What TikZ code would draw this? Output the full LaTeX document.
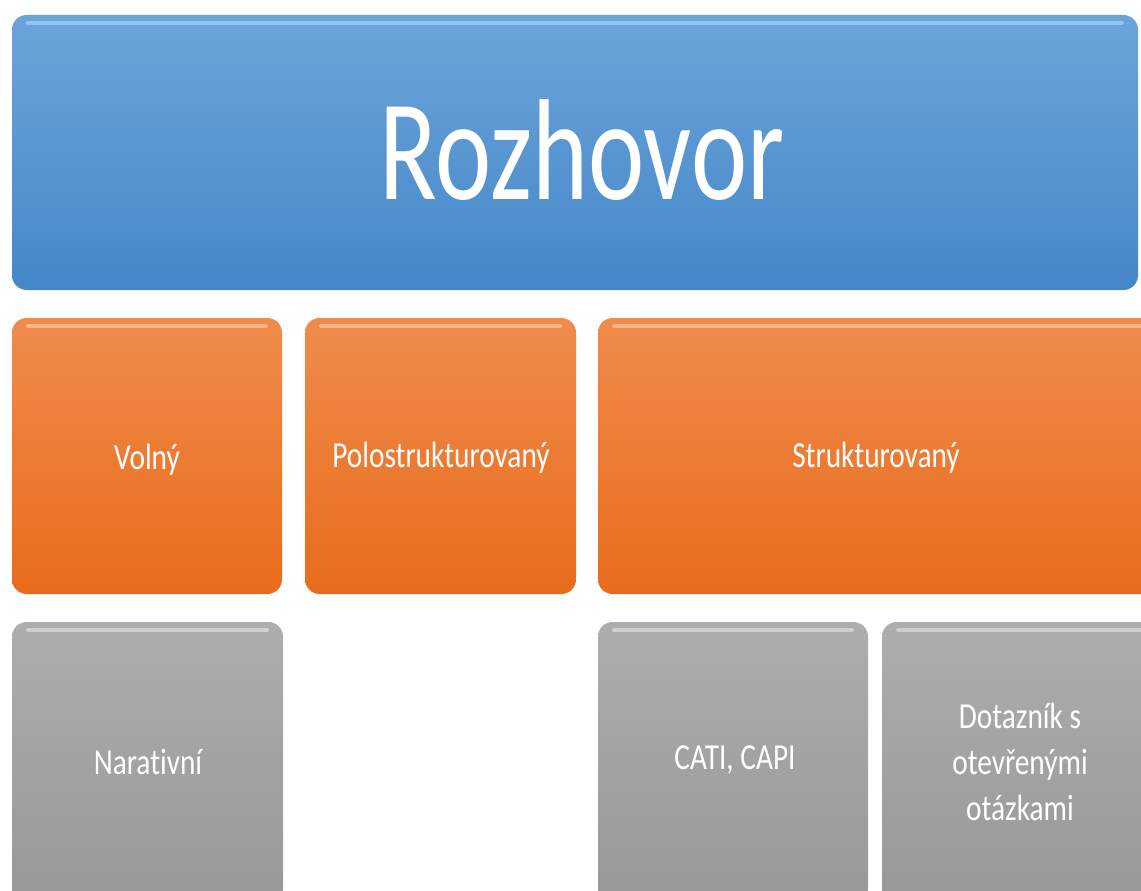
\documentclass[tikz,border=0pt]{standalone}
\usepackage{fontspec}
\setmainfont{Carlito}[RawFeature=-liga]
\newfontfamily\smallf{Carlito}[FakeStretch=0.8,RawFeature=-liga]
\newfontfamily\bigf{Carlito}[FakeStretch=0.74]
\begin{document}
\begin{tikzpicture}[x=0.75pt,y=-0.75pt,
  box/.style={rounded corners=11pt, inner sep=0pt, text=white, align=center},
  bluebox/.style={box, top color=blueTop, bottom color=blueBot},
  orangebox/.style={box, top color=orTop, bottom color=orBot},
  graybox/.style={box, top color=grTop, bottom color=grBot},
  lbl/.style={text=white, align=center, font=\smallf\fontsize{27.5}{34.5}\selectfont},
  gloss/.style={line width=3pt, line cap=round, opacity=0.55}
]
\definecolor{blueTop}{HTML}{6CA4DA}
\definecolor{blueBot}{HTML}{4488C9}
\definecolor{orTop}{HTML}{F08B4C}
\definecolor{orBot}{HTML}{E86C1B}
\definecolor{grTop}{HTML}{ADADAD}
\definecolor{grBot}{HTML}{989898}
\useasboundingbox (0,0) rectangle (1141,891);
\fill[white] (0,0) rectangle (1141,891);

% top box
\shade[bluebox] (12,15) rectangle (1138,290);
\draw[gloss, white!70!cyan] (28,23) -- (1122,23);
\node[text=white, font=\bigf\fontsize{108}{120}\selectfont] (root) at (582,150) {Rozhovor};

% orange row
\shade[orangebox] (12,318) rectangle (282,594);
\shade[orangebox] (305,318) rectangle (576,594);
\shade[orangebox] (598,318) rectangle (1160,594);
\draw[gloss, orange!30!white] (28,326) -- (266,326);
\draw[gloss, orange!30!white] (321,326) -- (560,326);
\draw[gloss, orange!30!white] (614,326) -- (1141,326);
\node[lbl] (volny) at (147,460) {Volný};
\node[lbl] (polo) at (441,458) {Polostrukturovaný};
\node[lbl] (strukt) at (876,458) {Strukturovaný};

% gray row
\shade[graybox] (12,622) rectangle (283,905);
\shade[graybox] (598,622) rectangle (868,905);
\shade[graybox] (882,622) rectangle (1160,905);
\draw[gloss, white!85!gray] (28,630) -- (267,630);
\draw[gloss, white!85!gray] (614,630) -- (852,630);
\draw[gloss, white!85!gray] (898,630) -- (1141,630);
\node[lbl] (narat) at (148,762) {Narativní};
\node[lbl] (cati) at (735,760) {CATI, CAPI};
\node[lbl] (dotaz) at (1020,762) {Dotazník s\\otevřenými\\otázkami};
\end{tikzpicture}
\end{document}
